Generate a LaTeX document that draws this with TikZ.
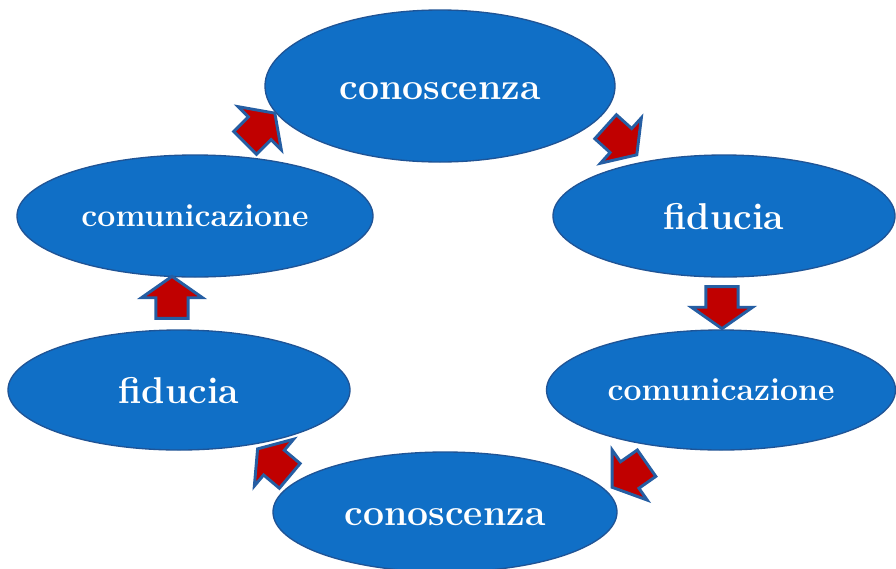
\documentclass[tikz,border=0pt]{standalone}
\usepackage{fontspec}
\usetikzlibrary{shapes.geometric,shapes.arrows}
\definecolor{ellfill}{RGB}{16,111,198}
\definecolor{elldraw}{RGB}{31,84,150}
\definecolor{arrfill}{RGB}{192,0,0}
\definecolor{arrdraw}{RGB}{37,94,163}
\begin{document}
\begin{tikzpicture}[x=0.75pt,y=-0.75pt,
  ell/.style={ellipse, fill=ellfill, draw=elldraw, line width=1pt, inner sep=0pt, text=white},
  big/.style={font=\fontsize{28}{30}\selectfont\bfseries, text height=19.5pt, text depth=0pt},
  small/.style={font=\fontsize{24}{26}\selectfont\bfseries, text height=15pt, text depth=0pt},
  blk/.style={single arrow, fill=arrfill, draw=arrdraw, line width=2.2pt,
    minimum height=31.5pt, minimum width=43.5pt, inner xsep=0pt, inner ysep=11pt,
    single arrow head extend=10.8pt, single arrow tip angle=110}]
\useasboundingbox (0,0) rectangle (896,568);
\clip (0,0) rectangle (896,568);
\fill[white] (0,0) rectangle (896,568);
\node[ell, big, minimum width=262.5pt, minimum height=114pt] (top) at (440,86) {conoscenza};
\node[ell, big, minimum width=256.5pt, minimum height=91.5pt] (rfid) at (724,216) {fiducia};
\node[ell, small, minimum width=261.75pt, minimum height=90pt] (rcom) at (721,390) {comunicazione};
\node[ell, big, minimum width=258pt, minimum height=90pt] (bot) at (445,512) {conoscenza};
\node[ell, big, minimum width=256.5pt, minimum height=90pt] (lfid) at (179,390) {fiducia};
\node[ell, small, minimum width=267pt, minimum height=91.5pt] (lcom) at (195,216) {comunicazione};
\node[blk, rotate=45] (a1) at (256,132) {};
\node[blk, rotate=-42] (a2) at (617,137) {};
\node[blk, rotate=-90] (a3) at (722,302) {};
\node[blk, rotate=-145] (a4) at (634,472) {};
\node[blk, rotate=140] (a5) at (278,466) {};
\node[blk, rotate=90] (a6) at (172,303) {};
\end{tikzpicture}
\end{document}
